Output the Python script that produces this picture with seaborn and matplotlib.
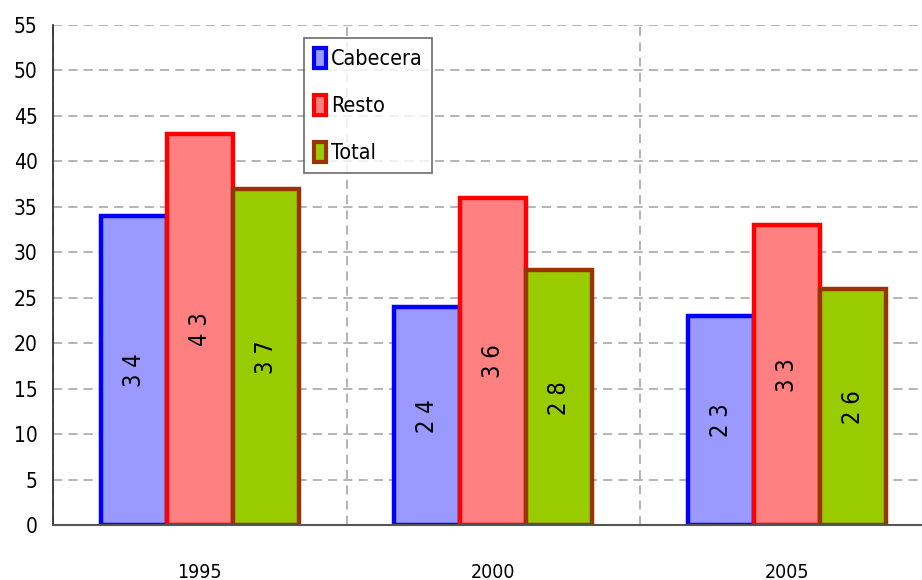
import numpy as np
import pandas as pd
import seaborn as sns
import matplotlib.pyplot as plt
from matplotlib import font_manager
from matplotlib.patches import Patch

years = ["1995", "2000", "2005"]
zonas = ["Cabecera", "Resto", "Total"]
cabecera = [34, 24, 23]
resto = [43, 36, 33]
total = [37, 28, 26]

fills = ["#9999FF", "#FF8080", "#99CC00"]
edges = ["#0000FF", "#FF0000", "#993300"]

df = pd.DataFrame({
    "year": years * 3,
    "zona": [z for z in zonas for _ in years],
    "value": cabecera + resto + total,
})

# narrow font if one is around, else Liberation Sans
narrow = [f for f in font_manager.fontManager.ttflist
          if ("Narrow" in f.name or "Condensed" in f.name
              or f.stretch in ("condensed", "semi-condensed", 87.5, 75))]
fam = ["Liberation Sans", "DejaVu Sans"]
stretch = "normal"
if narrow:
    fam = [narrow[0].name] + fam
    stretch = narrow[0].stretch

sns.set_style("white")
plt.rcParams["font.family"] = fam
plt.rcParams["font.stretch"] = stretch
plt.rcParams["text.color"] = "black"
plt.rcParams["xtick.color"] = "black"
plt.rcParams["ytick.color"] = "black"

fig = plt.figure(figsize=(9.22, 5.8), dpi=100)
ax = fig.add_axes([53 / 922, 1 - 525 / 580, 1 - 53 / 922, 500 / 580])

sns.barplot(data=df, x="year", y="value", hue="zona", palette=fills, saturation=1,
            width=0.675, gap=0, ax=ax, legend=False, zorder=3)

for cont, ec in zip(ax.containers, edges):
    for bar in cont:
        bar.set_edgecolor(ec)
        bar.set_linewidth(3.2)
    # the labels show the digits spaced out
    labs = [" ".join(str(int(v))) for v in cont.datavalues]
    ax.bar_label(cont, labels=labs, label_type="center", rotation=90, fontsize=17,
                 color="black", zorder=4)

ax.set_ylim(0, 55)
ax.set_yticks(np.arange(0, 56, 5))
ax.set_xticks([-0.5, 0.5, 1.5])
ax.set_xticklabels([])
ax.set_xticks([0, 1, 2], minor=True)
ax.set_xticklabels(years, minor=True, fontsize=14)
ax.set_xlim(-0.5, -0.5 + (922 - 53) / 293.5)
ax.tick_params(axis="x", which="minor", length=0, pad=27)
ax.tick_params(axis="x", which="major", length=7, width=1.2, color="#222222", direction="out")
ax.tick_params(axis="y", length=7, width=1.2, color="#222222", labelsize=15, pad=4, direction="out")
ax.set_xlabel("")
ax.set_ylabel("")

ax.grid(True, axis="y", color="#A0A0A0", linestyle=(0, (6, 4)), linewidth=1.1, zorder=0)
ax.grid(True, axis="x", which="major", color="#A0A0A0", linestyle=(0, (6, 4)), linewidth=1.1, zorder=0)
ax.set_axisbelow(True)

for s in ["top", "right"]:
    ax.spines[s].set_visible(False)
ax.spines["left"].set_color("#222222")
ax.spines["left"].set_linewidth(1.2)
ax.spines["bottom"].set_color("#555555")
ax.spines["bottom"].set_linewidth(1.5)
ax.spines["bottom"].set_zorder(5)

handles = [Patch(facecolor=f, edgecolor=e, linewidth=3) for f, e in zip(fills, edges)]
leg = fig.legend(handles, zonas, loc="upper left", bbox_to_anchor=(304 / 922, 1 - 38 / 580),
                 fontsize=15.5, frameon=True, fancybox=False, handlelength=0.55, handleheight=1.05,
                 handletextpad=0.25, labelspacing=1.2, borderpad=0.45, borderaxespad=0)
leg.get_frame().set_edgecolor("#555555")
leg.get_frame().set_linewidth(1.3)

fig.savefig("out.png", dpi=100)
